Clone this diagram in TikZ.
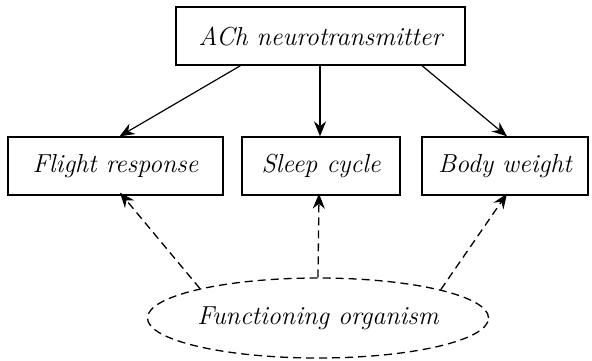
\documentclass[tikz,border=0pt]{standalone}
\usepackage{fontspec}
\usetikzlibrary{shapes.geometric,arrows.meta}
\begin{document}
\begin{tikzpicture}[x=1pt,y=-1pt,
  every node/.style={font=\itshape\fontsize{26}{30}\selectfont},
  factor/.style={draw,line width=1.3pt,inner sep=0pt,minimum height=58pt},
  organism/.style={draw,ellipse,line width=1.3pt,dash pattern=on 8pt off 5pt,inner sep=0pt,minimum width=340pt,minimum height=80pt},
  solidarrow/.style={line width=1.2pt,-{Stealth[length=15pt,width=12pt,inset=5pt]}},
  dasharrow/.style={line width=1.3pt,dash pattern=on 8pt off 5pt,-{Stealth[length=15pt,width=12pt,inset=5pt]}}]
\useasboundingbox (0,0) rectangle (592,360);
\node[factor,minimum width=289pt] (ach) at (320.5,36) {ACh neurotransmitter};
\node[factor,minimum width=215pt] (flight) at (115.5,166) {Flight response};
\node[factor,minimum width=158pt] (sleep) at (321,166) {Sleep cycle};
\node[factor,minimum width=166pt] (body) at (505,166) {Body weight};
\node[organism] (org) at (318,318) {Functioning organism};
\draw[solidarrow] ([xshift=-80pt]ach.south) -- ([xshift=4pt]flight.north);
\draw[solidarrow] ([xshift=-0.5pt]ach.south) -- ([xshift=-1pt]sleep.north);
\draw[solidarrow] ([xshift=101.5pt]ach.south) -- ([xshift=2pt]body.north);
\draw[dasharrow] (org.166.7) -- ([xshift=4.5pt,yshift=3pt]flight.south);
\draw[dasharrow] (org.north) -- ([xshift=-2pt,yshift=2pt]sleep.south);
\draw[dasharrow] (org.13.3) -- ([xshift=2pt,yshift=2pt]body.south);
\end{tikzpicture}
\end{document}
